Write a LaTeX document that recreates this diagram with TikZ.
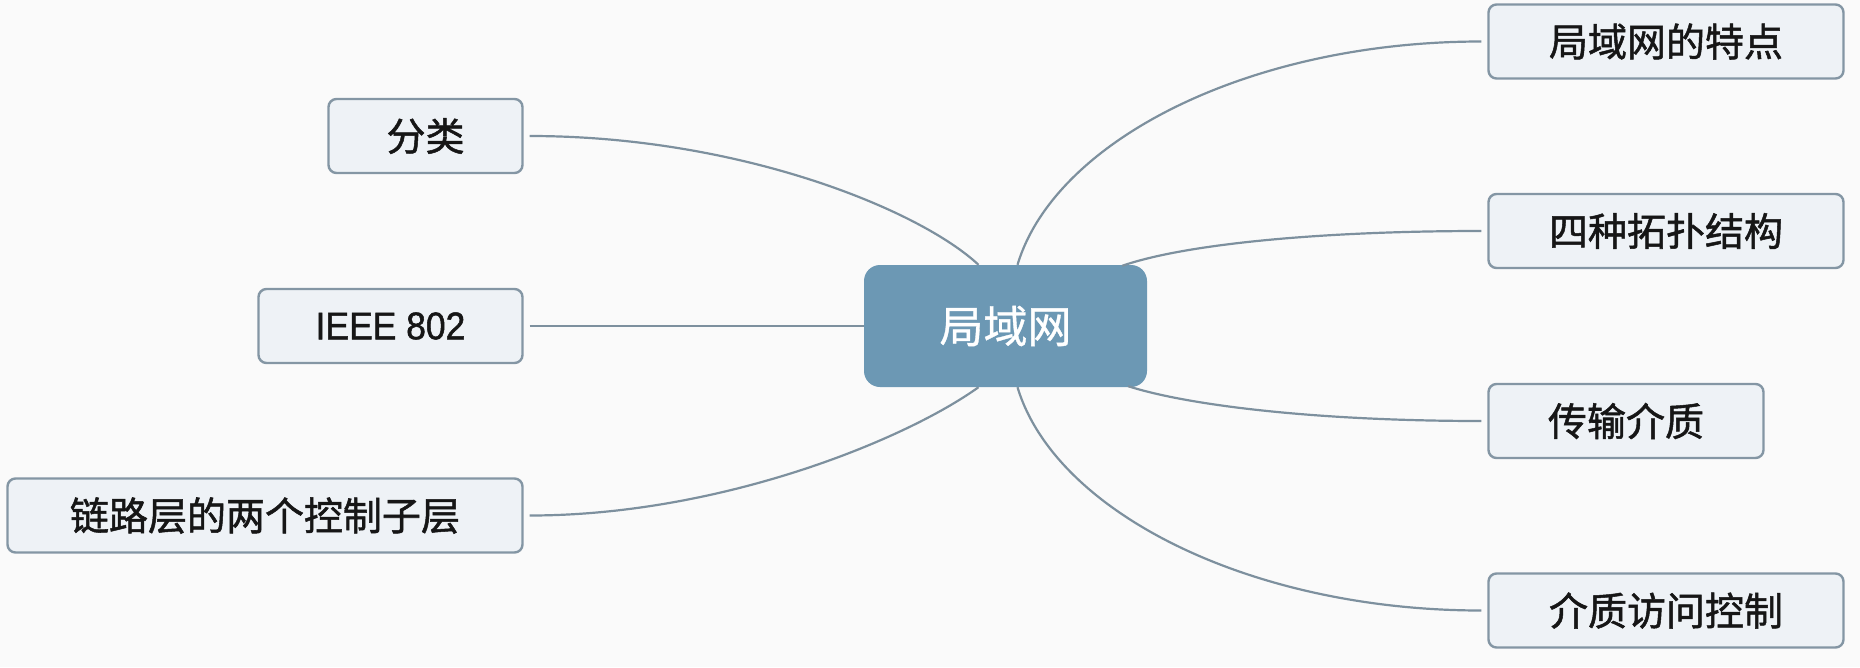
\documentclass[tikz,border=0pt]{standalone}
\usepackage{fontspec}
\setmainfont{Noto Sans CJK SC}
\newfontfamily\cjkfont[FakeBold=1.3]{Noto Sans CJK SC}
\newfontfamily\hubfont[FakeBold=0.8]{Noto Sans CJK SC}
\newfontfamily\latinfont[FakeStretch=0.92,FakeBold=1.3]{Liberation Sans}
\definecolor{bgc}{HTML}{FAFAFA}
\definecolor{hubfill}{HTML}{6C98B4}
\definecolor{leaffill}{HTML}{EEF2F6}
\definecolor{leafline}{HTML}{8496A4}
\definecolor{wire}{HTML}{7D909E}
\definecolor{ink}{HTML}{161616}
\tikzset{
  hub/.style={draw=none, fill=hubfill, rounded corners=16pt, minimum width=283pt,
    minimum height=122pt, inner sep=0pt, text=white, font=\hubfont\fontsize{44}{48}\selectfont},
  leaf/.style={draw=leafline, line width=2.4pt, fill=leaffill, rounded corners=8pt,
    minimum height=74pt, inner sep=0pt, text=ink, font=\cjkfont\fontsize{39}{44}\selectfont},
  wirestyle/.style={draw=wire, line width=2.2pt}
}
\begin{document}
\begin{tikzpicture}[x=1pt,y=-1pt]
\fill[bgc] (0,0) rectangle (1860,667);
\useasboundingbox (0,0) rectangle (1860,667);

\node[hub] (c) at (1005.5,326) {局域网};

\node[leaf, minimum width=194pt] (fl) at (425.5,136) {分类};
\node[leaf, minimum width=264pt, font=\latinfont\fontsize{38.5}{42}\selectfont] (ieee) at (390.5,326) {IEEE 802};
\node[leaf, minimum width=515pt] (ll) at (265,515.5) {链路层的两个控制子层};

\node[leaf, minimum width=355pt] (td) at (1666,41.5) {局域网的特点};
\node[leaf, minimum width=355pt] (tp) at (1666,231) {四种拓扑结构};
\node[leaf, minimum width=275pt] (cs) at (1626,421) {传输介质};
\node[leaf, minimum width=355pt] (mac) at (1666,610.5) {介质访问控制};

% connector end points
\coordinate (flE) at ([xshift=6pt]fl.east);
\coordinate (ieeeE) at ([xshift=6pt]ieee.east);
\coordinate (llE) at ([xshift=6pt]ll.east);
\coordinate (tdW) at ([xshift=-6pt]td.west);
\coordinate (tpW) at ([xshift=-6pt]tp.west);
\coordinate (csW) at ([xshift=-6pt]cs.west);
\coordinate (macW) at ([xshift=-6pt]mac.west);
\coordinate (cNL) at ([xshift=-27pt]c.north);
\coordinate (cNR) at ([xshift=12pt]c.north);
\coordinate (cSL) at ([xshift=-27pt]c.south);
\coordinate (cSR) at ([xshift=12pt]c.south);
\coordinate (cNE) at ([xshift=-25pt,yshift=-1pt]c.north east);
\coordinate (cSE) at ([xshift=-19pt,yshift=1pt]c.south east);

\draw[wirestyle] (flE) .. controls (740,136) and (920,210) .. (cNL);
\draw[wirestyle] (ieeeE) -- (c.west);
\draw[wirestyle] (llE) .. controls (720,515.5) and (905,440) .. (cSL);
\draw[wirestyle] (cNR) .. controls (1055,140) and (1250,41.5) .. (tdW);
\draw[wirestyle] (cNE) .. controls (1185,244) and (1320,231) .. (tpW);
\draw[wirestyle] (cSE) .. controls (1190,406) and (1320,421) .. (csW);
\draw[wirestyle] (cSR) .. controls (1055,512) and (1250,610.5) .. (macW);
\end{tikzpicture}
\end{document}
